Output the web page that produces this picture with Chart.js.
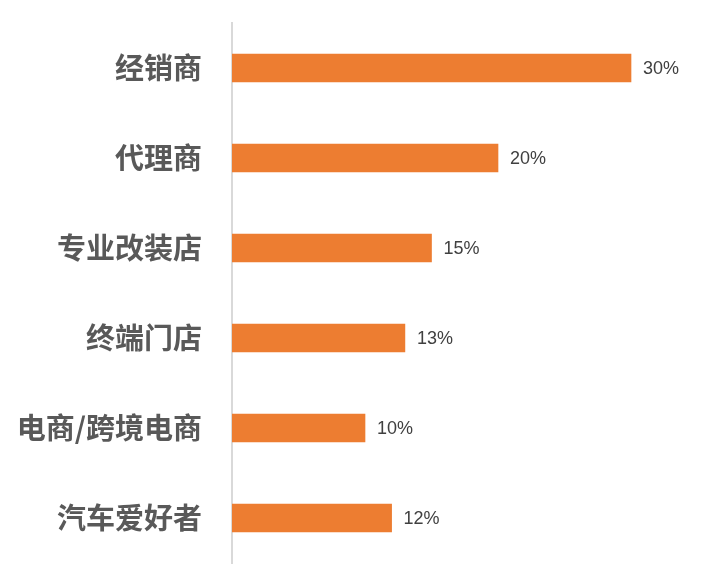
<!DOCTYPE html>
<html>
<head>
<meta charset="utf-8">
<script src="https://cdn.jsdelivr.net/npm/chart.js@4.4.1/dist/chart.umd.min.js"></script>
<style>
html,body{margin:0;padding:0;background:#fff;}
#wrap{width:720px;height:586px;position:relative;}
</style>
</head>
<body>
<div id="wrap"><canvas id="c" width="720" height="586"></canvas></div>
<script>
const categories = ["经销商", "代理商", "专业改装店", "终端门店", "电商/跨境电商", "汽车爱好者"];
const shares = [30, 20, 15, 13, 10, 12];
const xMax = 35;

const valueLabels = {
  id: 'valueLabels',
  afterDatasetsDraw(chart) {
    const ctx = chart.ctx;
    const meta = chart.getDatasetMeta(0);
    ctx.save();
    ctx.font = '18px "Liberation Sans", Arial, sans-serif';
    ctx.fillStyle = '#404040';
    ctx.textAlign = 'left';
    ctx.textBaseline = 'middle';
    meta.data.forEach((bar, i) => {
      ctx.fillText(shares[i] + '%', bar.x + 12, bar.y + 1);
    });
    ctx.restore();
  }
};

new Chart(document.getElementById('c'), {
  type: 'bar',
  data: {
    labels: categories,
    datasets: [{
      data: shares,
      backgroundColor: '#ED7D31',
      barThickness: 28,
      borderWidth: 0
    }]
  },
  options: {
    indexAxis: 'y',
    responsive: false,
    animation: false,
    devicePixelRatio: 1,
    layout: { padding: { top: 23, bottom: 23, left: 0, right: 22.5 } },
    plugins: { legend: { display: false }, tooltip: { enabled: false } },
    scales: {
      x: {
        display: false,
        min: 0,
        max: xMax
      },
      y: {
        offset: true,
        grid: { display: false, drawTicks: false },
        border: { display: true, color: '#d9d9d9', width: 2 },
        ticks: {
          padding: 30,
          color: '#595959',
          font: { family: '"Noto Sans CJK SC", sans-serif', size: 29, weight: 'bold' }
        },
        afterFit(scale) {
          scale.width = 232;
          scale.paddingTop = 0;
          scale.paddingBottom = 0;
        }
      }
    }
  },
  plugins: [valueLabels]
});
</script>
</body>
</html>
